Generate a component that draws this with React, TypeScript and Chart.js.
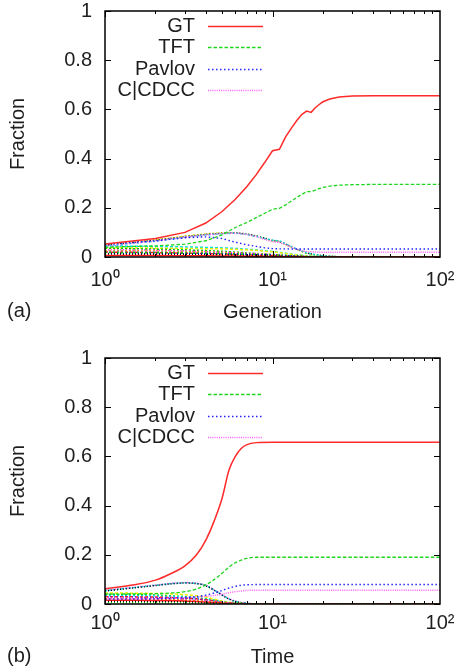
import { useEffect, useRef } from "react";
import { Chart, registerables } from "chart.js";

Chart.register(...registerables);

const FONT = "'Liberation Sans', Arial, Helvetica, sans-serif";
const TEXT = "#1e1e1e";

// ---------- shared axis data ----------
const yTicks = [0, 0.2, 0.4, 0.6, 0.8, 1];
const yTickLabels = ["0", "0.2", "0.4", "0.6", "0.8", "1"];
const xMajor = [1, 10, 100];
const xTickLabels = ["10⁰", "10¹", "10²"];
const legendLabels = ["GT", "TFT", "Pavlov", "C|CDCC"];

// ---------- (a) Generation ----------
const genX = [1, 2, 3, 4, 5, 6, 7, 8, 9, 10, 11, 12, 13, 14, 15, 16, 17, 18, 19, 20, 22, 25, 30, 40, 100];
const genGT = [0.053, 0.075, 0.1, 0.138, 0.185, 0.235, 0.285, 0.335, 0.385, 0.432, 0.438, 0.489, 0.525, 0.556, 0.58, 0.593, 0.588, 0.607, 0.62, 0.631, 0.642, 0.65, 0.654, 0.655, 0.655];
const genTFT = [0.04, 0.045, 0.052, 0.066, 0.09, 0.12, 0.14, 0.16, 0.178, 0.194, 0.198, 0.212, 0.228, 0.243, 0.255, 0.266, 0.266, 0.272, 0.278, 0.283, 0.288, 0.292, 0.294, 0.295, 0.295];
const genPavlov = [0.052, 0.066, 0.078, 0.082, 0.075, 0.06, 0.05, 0.043, 0.037, 0.034, 0.033, 0.033, 0.0325, 0.0325, 0.0325, 0.0325, 0.0325, 0.0325, 0.0325, 0.0325, 0.0325, 0.0325, 0.0325, 0.0325, 0.0325];
const genCCDCC = [0.045, 0.065, 0.08, 0.09, 0.095, 0.097, 0.092, 0.083, 0.072, 0.062, 0.06, 0.05, 0.04, 0.032, 0.025, 0.022, 0.021, 0.02, 0.0195, 0.019, 0.019, 0.019, 0.019, 0.019, 0.019];

const bgGenX = [1, 2, 3, 4, 5, 6, 7, 8, 10, 11, 12, 14, 16, 18, 20, 25, 100];
const bgGenYellow = [0.05, 0.07, 0.085, 0.094, 0.098, 0.098, 0.093, 0.085, 0.066, 0.063, 0.05, 0.03, 0.015, 0.008, 0.004, 0.001, 0];
const bgGenBlack = [0.048, 0.068, 0.083, 0.092, 0.097, 0.099, 0.094, 0.086, 0.067, 0.064, 0.052, 0.031, 0.016, 0.009, 0.005, 0.001, 0.001];
const bgGenCyan = [0.046, 0.064, 0.08, 0.09, 0.095, 0.097, 0.092, 0.084, 0.068, 0.066, 0.053, 0.032, 0.017, 0.009, 0.004, 0.001, 0];
const bgGenCyan2 = [0.045, 0.043, 0.041, 0.039, 0.037, 0.035, 0.032, 0.029, 0.022, 0.019, 0.015, 0.009, 0.005, 0.002, 0.001, 0, 0];
const bgGenYellow2 = [0.038, 0.036, 0.035, 0.034, 0.033, 0.031, 0.029, 0.027, 0.021, 0.018, 0.014, 0.008, 0.004, 0.002, 0.001, 0, 0];
const bgGenGreen2 = [0.036, 0.032, 0.029, 0.026, 0.023, 0.02, 0.017, 0.014, 0.01, 0.008, 0.006, 0.003, 0.001, 0, 0, 0, 0];
const bgGenMagenta2 = [0.03, 0.028, 0.025, 0.022, 0.02, 0.018, 0.016, 0.014, 0.01, 0.008, 0.006, 0.003, 0.001, 0, 0, 0, 0];
const bgGenOrange = [0.027, 0.024, 0.022, 0.02, 0.018, 0.016, 0.014, 0.012, 0.009, 0.007, 0.005, 0.003, 0.001, 0, 0, 0, 0];
const bgGenBlue2 = [0.014, 0.014, 0.013, 0.013, 0.012, 0.012, 0.011, 0.01, 0.008, 0.007, 0.006, 0.004, 0.002, 0.001, 0, 0, 0];
const bgGenRed2 = [0.02, 0.018, 0.016, 0.014, 0.012, 0.01, 0.009, 0.008, 0.006, 0.005, 0.004, 0.002, 0.001, 0, 0, 0, 0];
const bgGenGrey = [0.024, 0.021, 0.019, 0.017, 0.015, 0.013, 0.011, 0.01, 0.007, 0.006, 0.004, 0.002, 0.001, 0, 0, 0, 0];
const bgGenBlack2 = [0.012, 0.011, 0.01, 0.009, 0.008, 0.007, 0.006, 0.005, 0.004, 0.003, 0.002, 0.001, 0, 0, 0, 0, 0];
const bgGenRed3 = [0.006, 0.006, 0.005, 0.005, 0.004, 0.004, 0.003, 0.003, 0.002, 0.002, 0.001, 0.001, 0, 0, 0, 0, 0];
const bgGenGreen3 = [0.018, 0.017, 0.016, 0.015, 0.014, 0.012, 0.011, 0.01, 0.008, 0.007, 0.005, 0.003, 0.001, 0, 0, 0, 0];
const bgGenCyan3 = [0.008, 0.008, 0.007, 0.007, 0.006, 0.006, 0.005, 0.004, 0.003, 0.003, 0.002, 0.001, 0, 0, 0, 0, 0];

// ---------- (b) Time ----------
const timeX = [1, 1.5, 2, 2.5, 3, 3.5, 4, 4.5, 5, 5.5, 6, 6.5, 7, 8, 10, 20, 100];
const timeGT = [0.062, 0.078, 0.097, 0.125, 0.155, 0.198, 0.26, 0.34, 0.43, 0.545, 0.6, 0.632, 0.647, 0.656, 0.658, 0.658, 0.658];
const timeTFT = [0.04, 0.041, 0.042, 0.045, 0.05, 0.06, 0.078, 0.1, 0.125, 0.15, 0.168, 0.178, 0.185, 0.19, 0.19, 0.19, 0.19];
const timePavlov = [0.02, 0.02, 0.021, 0.023, 0.026, 0.03, 0.036, 0.045, 0.055, 0.065, 0.072, 0.076, 0.078, 0.079, 0.079, 0.079, 0.079];
const timeCCDCC = [0.02, 0.021, 0.022, 0.024, 0.026, 0.028, 0.031, 0.035, 0.04, 0.046, 0.05, 0.053, 0.055, 0.056, 0.056, 0.056, 0.056];

const bgTimeX = [1, 1.5, 2, 2.5, 3, 3.5, 4, 4.5, 5, 5.5, 6, 7, 8, 10, 100];
const bgTimeMagenta = [0.055, 0.068, 0.077, 0.084, 0.087, 0.085, 0.076, 0.057, 0.038, 0.022, 0.012, 0.003, 0.001, 0, 0];
const bgTimeCyan = [0.054, 0.067, 0.076, 0.083, 0.086, 0.084, 0.075, 0.056, 0.037, 0.021, 0.011, 0.003, 0.001, 0, 0];
const bgTimeBlack = [0.053, 0.066, 0.075, 0.082, 0.085, 0.083, 0.074, 0.055, 0.036, 0.02, 0.01, 0.002, 0, 0, 0];
const bgTimeYellow = [0.045, 0.044, 0.043, 0.041, 0.038, 0.034, 0.028, 0.02, 0.012, 0.007, 0.004, 0.001, 0, 0, 0];
const bgTimeGreen = [0.04, 0.038, 0.036, 0.033, 0.03, 0.026, 0.021, 0.015, 0.009, 0.005, 0.003, 0.001, 0, 0, 0];
const bgTimeCyan2 = [0.035, 0.034, 0.033, 0.031, 0.028, 0.025, 0.02, 0.014, 0.009, 0.005, 0.002, 0, 0, 0, 0];
const bgTimeRed = [0.03, 0.029, 0.028, 0.026, 0.024, 0.021, 0.017, 0.012, 0.007, 0.004, 0.002, 0, 0, 0, 0];
const bgTimeBlue = [0.028, 0.027, 0.026, 0.024, 0.022, 0.019, 0.015, 0.01, 0.006, 0.003, 0.001, 0, 0, 0, 0];
const bgTimeMagenta2 = [0.025, 0.024, 0.023, 0.021, 0.019, 0.016, 0.013, 0.009, 0.005, 0.003, 0.001, 0, 0, 0, 0];
const bgTimeOrange = [0.02, 0.019, 0.018, 0.017, 0.015, 0.013, 0.01, 0.007, 0.004, 0.002, 0.001, 0, 0, 0, 0];
const bgTimeRed2 = [0.015, 0.015, 0.014, 0.013, 0.012, 0.01, 0.008, 0.005, 0.003, 0.002, 0.001, 0, 0, 0, 0];
const bgTimeBlack2 = [0.01, 0.01, 0.009, 0.009, 0.008, 0.007, 0.005, 0.004, 0.002, 0.001, 0, 0, 0, 0, 0];
const bgTimeGrey = [0.022, 0.021, 0.02, 0.019, 0.017, 0.015, 0.012, 0.008, 0.005, 0.003, 0.001, 0, 0, 0, 0];
const bgTimeGreen2 = [0.005, 0.005, 0.005, 0.004, 0.004, 0.003, 0.003, 0.002, 0.001, 0, 0, 0, 0, 0, 0];

// ---------- styles ----------
const RED = "#ff1a1a";
const GREEN = "#00c800";
const BLUE = "#0000ff";
const MAGENTA = "#ff33ff";
const CYAN = "#00dddd";
const YELLOW = "#eeee00";
const BLACK = "#000000";
const ORANGE = "#ff8c00";
const GREY = "#999999";

const mainStyles = [
  { color: "#ff2a2a", dash: [], width: 1.5 },
  { color: "#1fd61f", dash: [3.5, 2], width: 1.3 },
  { color: "#2222ff", dash: [1.5, 2.5], width: 1.4 },
  { color: "#ff5cff", dash: [1, 1.2], width: 1.5 },
];

type Series = { ys: number[]; color: string; dash: number[] };

const bgGenSeries: Series[] = [
  { ys: bgGenRed3, color: RED, dash: [] },
  { ys: bgGenBlack2, color: BLACK, dash: [1, 2] },
  { ys: bgGenCyan3, color: CYAN, dash: [1, 2] },
  { ys: bgGenBlue2, color: BLUE, dash: [1, 2] },
  { ys: bgGenGreen3, color: GREEN, dash: [2, 2] },
  { ys: bgGenRed2, color: RED, dash: [3, 2] },
  { ys: bgGenGrey, color: GREY, dash: [2, 2] },
  { ys: bgGenOrange, color: ORANGE, dash: [2, 2] },
  { ys: bgGenMagenta2, color: MAGENTA, dash: [1, 2] },
  { ys: bgGenGreen2, color: GREEN, dash: [2, 2] },
  { ys: bgGenYellow2, color: YELLOW, dash: [3, 2] },
  { ys: bgGenCyan2, color: CYAN, dash: [3, 2] },
  { ys: bgGenCyan, color: CYAN, dash: [2, 2] },
  { ys: bgGenBlack, color: BLACK, dash: [1, 2] },
  { ys: bgGenYellow, color: YELLOW, dash: [2, 2] },
];

const bgTimeSeries: Series[] = [
  { ys: bgTimeGreen2, color: GREEN, dash: [1, 2] },
  { ys: bgTimeBlack2, color: BLACK, dash: [1, 2] },
  { ys: bgTimeRed2, color: RED, dash: [] },
  { ys: bgTimeOrange, color: ORANGE, dash: [2, 2] },
  { ys: bgTimeGrey, color: GREY, dash: [2, 2] },
  { ys: bgTimeMagenta2, color: MAGENTA, dash: [1, 2] },
  { ys: bgTimeBlue, color: BLUE, dash: [1, 2] },
  { ys: bgTimeRed, color: RED, dash: [3, 2] },
  { ys: bgTimeCyan2, color: CYAN, dash: [2, 2] },
  { ys: bgTimeGreen, color: GREEN, dash: [2, 2] },
  { ys: bgTimeYellow, color: YELLOW, dash: [3, 2] },
  { ys: bgTimeBlack, color: BLACK, dash: [1, 2] },
  { ys: bgTimeCyan, color: CYAN, dash: [2, 2] },
  { ys: bgTimeMagenta, color: MAGENTA, dash: [1, 1.5] },
];

function pts(xs: number[], ys: number[]) {
  return xs.map((x, i) => ({ x, y: ys[i] }));
}

// ---------- plugins ----------
const framePlugin = {
  id: "frame",
  afterDatasetsDraw(chart: any) {
    const { ctx, chartArea, scales } = chart;
    const { left, right, top, bottom } = chartArea;
    const x = scales.x;
    const y = scales.y;
    ctx.save();
    ctx.setLineDash([]);
    ctx.strokeStyle = "#000";
    ctx.lineWidth = 1;
    ctx.beginPath();
    for (const v of yTicks) {
      const py = Math.round(y.getPixelForValue(v)) + 0.5;
      ctx.moveTo(left, py);
      ctx.lineTo(left + 6, py);
      ctx.moveTo(right, py);
      ctx.lineTo(right - 6, py);
    }
    for (let d = 1; d < 100; d *= 10) {
      for (let m = 1; m < 10; m++) {
        const len = m === 1 ? 6 : 3;
        const px = Math.round(x.getPixelForValue(d * m)) + 0.5;
        ctx.moveTo(px, bottom);
        ctx.lineTo(px, bottom - len);
        ctx.moveTo(px, top);
        ctx.lineTo(px, top + len);
      }
    }
    ctx.stroke();
    ctx.lineWidth = 1.5;
    ctx.strokeRect(left, top, right - left, bottom - top);
    ctx.restore();
  },
};

const legendPlugin = {
  id: "insideLegend",
  afterDatasetsDraw(chart: any) {
    const { ctx, chartArea } = chart;
    const { left, top } = chartArea;
    ctx.save();
    chart.data.datasets.slice(0, legendLabels.length).forEach((ds: any, i: number) => {
      const yy = Math.round(top + 14.5 + i * 21.5) + 0.5;
      ctx.fillStyle = TEXT;
      ctx.font = `20px ${FONT}`;
      ctx.textAlign = "right";
      ctx.textBaseline = "middle";
      ctx.fillText(ds.label, left + 90, yy);
      ctx.strokeStyle = ds.borderColor;
      ctx.lineWidth = ds.borderWidth;
      ctx.setLineDash(ds.borderDash || []);
      ctx.beginPath();
      ctx.moveTo(left + 103, yy);
      ctx.lineTo(left + 158, yy);
      ctx.stroke();
    });
    ctx.restore();
  },
};

type PanelProps = {
  xs: number[];
  mains: number[][];
  bgX: number[];
  bgs: Series[];
  xTitle: string;
  topPad: number;
  axisH: number;
  tickPad: number;
  titlePadBottom: number;
  smooth: boolean;
};

function Panel(p: PanelProps) {
  const ref = useRef<HTMLCanvasElement | null>(null);
  useEffect(() => {
    if (!ref.current) return;
    const font = { family: FONT, size: 20 };
    const mainSets = p.mains.map((ys, i) => ({
      label: legendLabels[i],
      data: pts(p.xs, ys),
      borderColor: mainStyles[i].color,
      borderDash: mainStyles[i].dash,
      borderWidth: mainStyles[i].width,
      pointRadius: 0,
      fill: false,
      cubicInterpolationMode: p.smooth ? "monotone" : "default",
      tension: 0,
    }));
    const bgSets = p.bgs.map((s, i) => ({
      label: "bg" + i,
      data: pts(p.bgX, s.ys),
      borderColor: s.color,
      borderDash: s.dash,
      borderWidth: 1.5,
      pointRadius: 0,
      fill: false,
      cubicInterpolationMode: p.smooth ? "monotone" : "default",
      tension: 0,
    }));
    const chart = new Chart(ref.current, {
      type: "line",
      data: { datasets: [...mainSets, ...bgSets] as any },
      options: {
        responsive: false,
        animation: false,
        events: [],
        devicePixelRatio: 1,
        layout: { padding: { top: p.topPad, right: 16, left: 0, bottom: 0 } },
        plugins: { legend: { display: false }, tooltip: { enabled: false }, title: { display: false } },
        scales: {
          x: {
            type: "logarithmic",
            min: 1,
            max: 100,
            afterBuildTicks: (s: any) => {
              s.ticks = xMajor.map((v) => ({ value: v }));
            },
            afterFit: (s: any) => {
              s.height = p.axisH;
              s.paddingLeft = 0;
              s.paddingRight = 0;
            },
            grid: { display: false, drawTicks: false },
            border: { display: false },
            ticks: {
              font,
              color: TEXT,
              padding: p.tickPad,
              maxRotation: 0,
              autoSkip: false,
              callback: (_v: any, i: number) => xTickLabels[i],
            },
            title: { display: true, text: p.xTitle, font, color: TEXT, padding: { top: 0, bottom: p.titlePadBottom } },
          },
          y: {
            min: 0,
            max: 1,
            afterBuildTicks: (s: any) => {
              s.ticks = yTicks.map((v) => ({ value: v }));
            },
            afterFit: (s: any) => {
              s.width = 105;
              s.paddingTop = 0;
              s.paddingBottom = 0;
            },
            grid: { display: false, drawTicks: false },
            border: { display: false },
            ticks: { font, color: TEXT, padding: 13, callback: (_v: any, i: number) => yTickLabels[i] },
            title: { display: true, text: "Fraction", font, color: TEXT, padding: { top: 6, bottom: 0 } },
          },
        },
      } as any,
      plugins: [framePlugin, legendPlugin],
    });
    return () => chart.destroy();
  }, []);
  return <canvas ref={ref} width={456} height={335} style={{ display: "block", width: 456, height: 335 }} />;
}

export default function App() {
  const labelStyle: any = {
    position: "absolute",
    left: 7,
    fontFamily: FONT,
    fontSize: 20,
    lineHeight: "24px",
    color: TEXT,
  };
  return (
    <div style={{ position: "absolute", left: 0, top: 0, width: 456, height: 670, background: "#fff" }}>
      <Panel
        xs={genX}
        mains={[genGT, genTFT, genPavlov, genCCDCC]}
        bgX={bgGenX}
        bgs={bgGenSeries}
        xTitle="Generation"
        topPad={11}
        axisH={78}
        tickPad={11}
        titlePadBottom={11}
        smooth={false}
      />
      <Panel
        xs={timeX}
        mains={[timeGT, timeTFT, timePavlov, timeCCDCC]}
        bgX={bgTimeX}
        bgs={bgTimeSeries}
        xTitle="Time"
        topPad={23}
        axisH={66}
        tickPad={7}
        titlePadBottom={1}
        smooth={true}
      />
      <div style={{ ...labelStyle, top: 298 }}>(a)</div>
      <div style={{ ...labelStyle, top: 643 }}>(b)</div>
    </div>
  );
}
